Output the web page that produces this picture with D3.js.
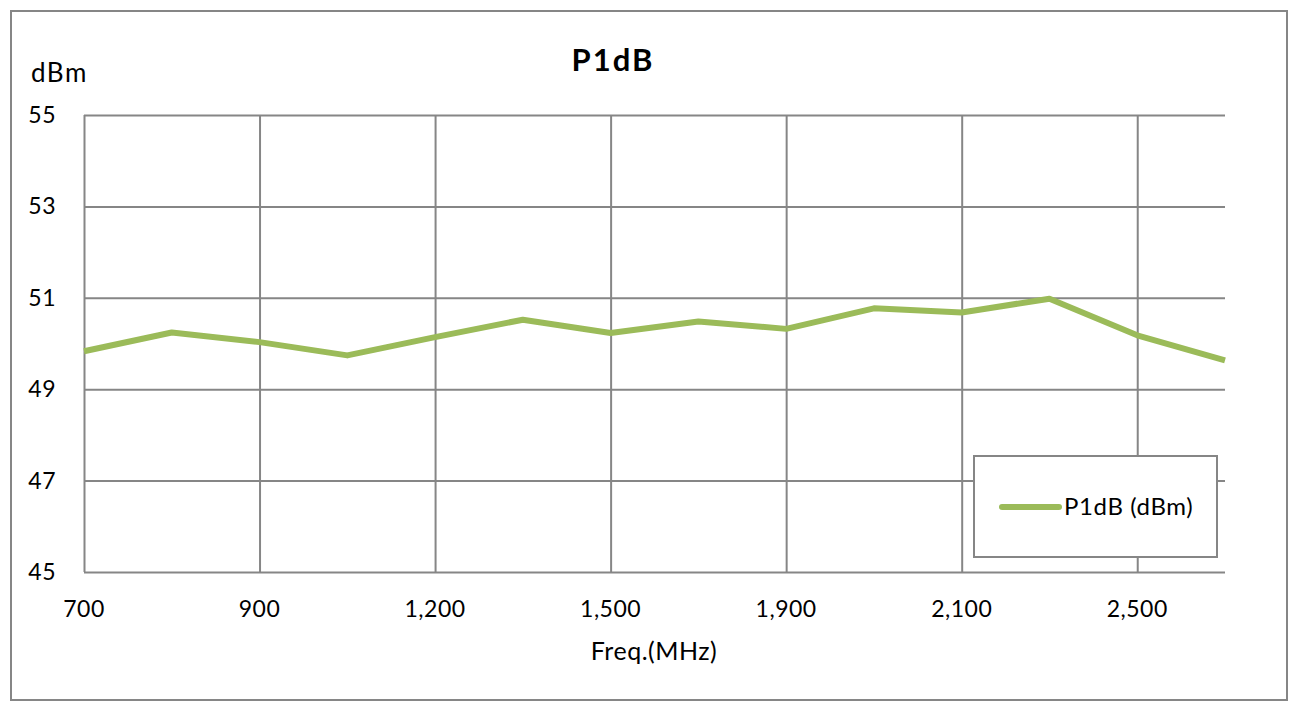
<!DOCTYPE html>
<html>
<head>
<meta charset="utf-8">
<script src="https://cdn.jsdelivr.net/npm/d3@7"></script>
<style>
  html, body { margin: 0; padding: 0; background: #fff; }
  text { font-family: Lato, "Open Sans", sans-serif; fill: #000; }
</style>
</head>
<body>
<svg id="chart" width="1304" height="715"></svg>
<script>
// ---- data ----
const freqs = [700, 800, 900, 1000, 1200, 1400, 1500, 1700, 1900, 2000, 2100, 2300, 2500, 2700];
const p1db = [49.83, 50.24, 50.03, 49.74, 50.14, 50.52, 50.23, 50.48, 50.32, 50.77, 50.68, 50.98, 50.18, 49.63];
const yTicks = [45, 47, 49, 51, 53, 55];
const xLabelEvery = 2;
const titleText = "P1dB";
const yTitle = "dBm";
const xTitle = "Freq.(MHz)";
const seriesName = "P1dB (dBm)";

// ---- layout ----
const svg = d3.select("#chart");
const grid = "#868686";
const lineColor = "#9BBB59";
const L = 84, R = 1225, T = 115, B = 572;

svg.append("rect").attr("x", 11).attr("y", 11).attr("width", 1276).attr("height", 689)
  .attr("fill", "#fff").attr("stroke", grid).attr("stroke-width", 2);

const x = d3.scalePoint().domain(freqs).range([L, R]);
const y = d3.scaleLinear().domain([45, 55]).range([B, T]);

const xTickVals = freqs.filter((d, i) => i % xLabelEvery === 0);

// horizontal grid
const gy = svg.append("g").attr("transform", `translate(${L},0)`)
  .call(d3.axisLeft(y).tickValues(yTicks).tickSize(-(R - L)).tickFormat(""));
gy.select(".domain").remove();
gy.selectAll("line").attr("stroke", grid).attr("stroke-width", 2).attr("x1", 0);

// vertical grid
const gx = svg.append("g").attr("transform", `translate(0,${B})`)
  .call(d3.axisBottom(x).tickValues(xTickVals).tickSize(-(B - T)).tickFormat(""));
gx.select(".domain").remove();
gx.selectAll("line").attr("stroke", grid).attr("stroke-width", 2);

// y labels
svg.append("g").selectAll("text").data(yTicks).join("text")
  .attr("x", 56).attr("y", d => y(d) + 8)
  .attr("text-anchor", "end").attr("font-size", 23).attr("letter-spacing", 0.5).text(d => d);

// x labels
svg.append("g").selectAll("text").data(xTickVals).join("text")
  .attr("x", d => x(d)).attr("y", 617)
  .attr("text-anchor", "middle").attr("font-size", 23).attr("letter-spacing", 0.5)
  .text(d => d3.format(",")(d));

// titles
svg.append("text").attr("x", 613).attr("y", 71).attr("text-anchor", "middle")
  .attr("font-size", 31).attr("font-weight", "bold").attr("letter-spacing", 2).text(titleText);
svg.append("text").attr("x", 31).attr("y", 82).attr("font-size", 26).attr("letter-spacing", 1.5).text(yTitle);
svg.append("text").attr("x", 654).attr("y", 660).attr("text-anchor", "middle")
  .attr("font-size", 25).attr("letter-spacing", 0.5).text(xTitle);

// series line
const line = d3.line().x((d, i) => x(freqs[i])).y(d => y(d));
svg.append("path").datum(p1db).attr("d", line)
  .attr("fill", "none").attr("stroke", lineColor).attr("stroke-width", 6)
  .attr("stroke-linejoin", "round").attr("stroke-linecap", "butt");

// legend
const lg = svg.append("g");
lg.append("rect").attr("x", 974).attr("y", 456).attr("width", 243).attr("height", 101)
  .attr("fill", "#fff").attr("stroke", grid).attr("stroke-width", 2);
lg.append("line").attr("x1", 1002).attr("x2", 1059).attr("y1", 507).attr("y2", 507)
  .attr("stroke", lineColor).attr("stroke-width", 6).attr("stroke-linecap", "round");
lg.append("text").attr("x", 1064).attr("y", 515).attr("font-size", 24).attr("letter-spacing", 0.6).text(seriesName);
</script>
</body>
</html>
